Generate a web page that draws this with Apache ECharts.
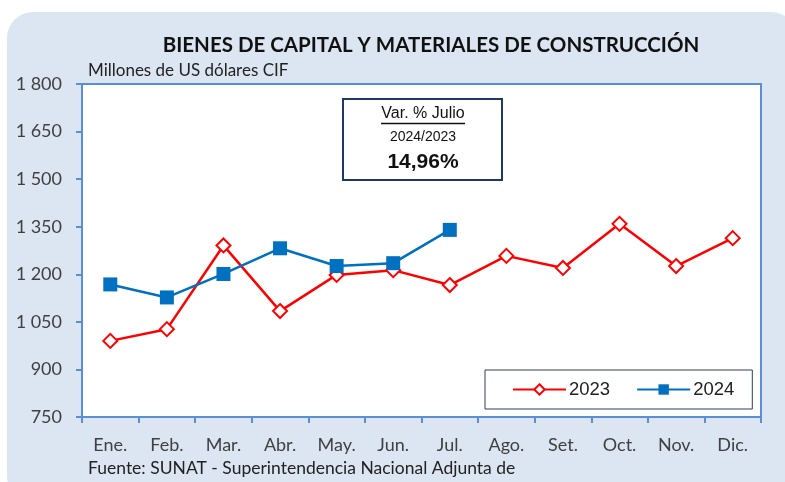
<!DOCTYPE html>
<html>
<head>
<meta charset="utf-8">
<script src="https://cdn.jsdelivr.net/npm/echarts@6/dist/echarts.min.js"></script>
<style>
  html, body { margin: 0; padding: 0; background: #ffffff; }
  #chart { width: 785px; height: 482px; }
</style>
</head>
<body>
<div id="chart"></div>
<script>
// Monthly imports of capital goods and construction materials (million US$ CIF)
const months = ['Ene.', 'Feb.', 'Mar.', 'Abr.', 'May.', 'Jun.', 'Jul.', 'Ago.', 'Set.', 'Oct.', 'Nov.', 'Dic.'];
const values2023 = [990, 1027, 1291, 1084, 1198, 1213, 1166, 1258, 1220, 1359, 1226, 1314];
const values2024 = [1168, 1127, 1201, 1282, 1226, 1235, 1340];
const yTicks = { min: 750, max: 1800, step: 150 };
const varNote = ['Var. % Julio', '2024/2023', '14,96%'];

const LABEL_FONT = 'Lato, "Open Sans", sans-serif';
const ARIAL = '"Liberation Sans", Arial, sans-serif';
const FRAME = '#5A8FD8';

function spaced(v) {
  return String(v).replace(/\B(?=(\d{3})+(?!\d))/g, ' ');
}

const chart = echarts.init(document.getElementById('chart'), null, { renderer: 'canvas' });

chart.setOption({
  animation: false,
  backgroundColor: '#ffffff',
  title: {
    text: 'BIENES DE CAPITAL Y MATERIALES DE CONSTRUCCIÓN',
    left: 426,
    textAlign: 'center',
    top: 30,
    textStyle: { fontFamily: LABEL_FONT, fontSize: 20.5, fontWeight: 'bold', color: '#111111' }
  },
  grid: {
    left: 82, top: 84, right: 24, bottom: 65,
    show: true,
    backgroundColor: '#ffffff',
    borderColor: FRAME,
    borderWidth: 2
  },
  legend: {
    left: 485,
    top: 370,
    width: 267,
    orient: 'horizontal',
    backgroundColor: '#ffffff',
    borderColor: '#2F3E5C',
    borderWidth: 1,
    borderRadius: 0,
    padding: [10, 18, 10, 27],
    itemGap: 26,
    itemWidth: 53,
    itemHeight: 13,
    textStyle: { fontFamily: ARIAL, fontSize: 18.5, color: '#222222', padding: [0, 0, 0, -2] },
    data: ['2023', '2024']
  },
  xAxis: {
    type: 'category',
    data: months,
    boundaryGap: true,
    axisLine: { lineStyle: { color: FRAME, width: 2 } },
    axisTick: { show: true, interval: 0, length: 6, lineStyle: { color: FRAME, width: 2 } },
    axisLabel: { interval: 0, margin: 19, fontFamily: LABEL_FONT, fontSize: 18, color: '#404040' },
    splitLine: { show: false }
  },
  yAxis: {
    type: 'value',
    min: yTicks.min,
    max: yTicks.max,
    interval: yTicks.step,
    axisLine: { show: true, lineStyle: { color: FRAME, width: 2 } },
    axisTick: { show: true, length: 6, lineStyle: { color: FRAME, width: 2 } },
    axisLabel: { margin: 20, fontFamily: LABEL_FONT, fontSize: 18, color: '#404040', formatter: spaced },
    splitLine: { show: false }
  },
  series: [
    {
      name: '2023',
      type: 'line',
      data: values2023,
      symbol: 'diamond',
      symbolSize: 14,
      itemStyle: { color: '#ffffff', borderColor: '#FF0000', borderWidth: 2 },
      lineStyle: { color: '#FF0000', width: 2.5 },
      z: 2
    },
    {
      name: '2024',
      type: 'line',
      data: values2024,
      symbol: 'rect',
      symbolSize: 14,
      itemStyle: { color: '#0070C0', borderColor: '#0070C0', borderWidth: 0 },
      lineStyle: { color: '#0070C0', width: 2.5 },
      z: 3
    }
  ],
  graphic: [
    {
      type: 'rect',
      z: -10,
      silent: true,
      shape: { x: 7, y: 12, width: 790, height: 490, r: 26 },
      style: { fill: '#DCE6F2' }
    },
    {
      type: 'text',
      left: 88, top: 62,
      style: { text: 'Millones de US dólares CIF', fontFamily: LABEL_FONT, fontSize: 17, fill: '#222222' }
    },
    {
      type: 'text',
      left: 88, top: 459,
      style: { text: 'Fuente: SUNAT - Superintendencia Nacional Adjunta de', fontFamily: LABEL_FONT, fontSize: 17.5, fill: '#222222' }
    },
    {
      type: 'group',
      left: 342, top: 98,
      children: [
        {
          type: 'rect',
          shape: { x: 0, y: 0, width: 159, height: 81 },
          style: { fill: '#ffffff', stroke: '#1F3864', lineWidth: 2 }
        },
        {
          type: 'text',
          x: 80, y: 15,
          style: { text: varNote[0], fontFamily: ARIAL, fontSize: 16, fill: '#111111', align: 'center', verticalAlign: 'middle' }
        },
        {
          type: 'line',
          shape: { x1: 38, y1: 24.5, x2: 122, y2: 24.5 },
          style: { stroke: '#111111', lineWidth: 1.5 }
        },
        {
          type: 'text',
          x: 80, y: 38,
          style: { text: varNote[1], fontFamily: ARIAL, fontSize: 14, fill: '#111111', align: 'center', verticalAlign: 'middle' }
        },
        {
          type: 'text',
          x: 80, y: 63,
          style: { text: varNote[2], fontFamily: ARIAL, fontSize: 21, fontWeight: 'bold', fill: '#111111', align: 'center', verticalAlign: 'middle' }
        }
      ]
    }
  ]
});
</script>
</body>
</html>
